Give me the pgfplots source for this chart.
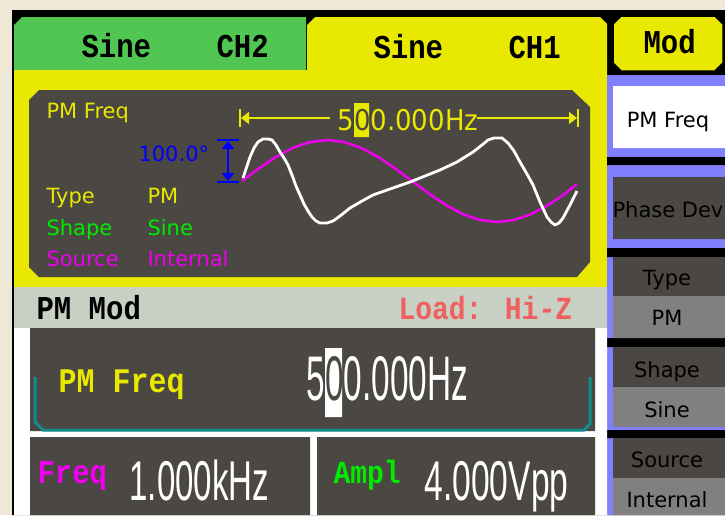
\documentclass[border=0pt]{standalone}
\usepackage{pgfplots}
\pgfplotsset{compat=1.18}
\usepackage{fontspec}
\usetikzlibrary{arrows.meta}
\setmainfont{DejaVu Sans}
\newfontfamily\mono{Liberation Mono}
\newfontfamily\lsans{Liberation Sans}
\definecolor{beige}{RGB}{240,232,214}
\definecolor{tabgreen}{RGB}{82,198,82}
\definecolor{ylw}{RGB}{232,232,0}
\definecolor{dk}{RGB}{75,71,66}
\definecolor{lgray}{RGB}{200,208,196}
\definecolor{lav}{RGB}{128,128,255}
\definecolor{mgray}{RGB}{128,128,128}
\definecolor{teal2}{RGB}{16,140,140}
\definecolor{redt}{RGB}{240,96,96}
\definecolor{grn}{RGB}{0,235,0}
\definecolor{mag}{RGB}{240,0,240}
\newcommand{\rect}[5]{\addplot[fill=#1,draw=none] coordinates {(#2,#3)(#4,#3)(#4,#5)(#2,#5)(#2,#3)};}
\newcommand{\mtxt}[2]{\scalebox{1}[1.15]{\fontsize{#1}{#1}\selectfont\mono\bfseries #2}}
\newcommand{\stxt}[1]{\fontsize{21}{24}\selectfont #1}
\begin{document}
\begin{tikzpicture}
\useasboundingbox (0,0) rectangle (725pt,515pt);
\begin{axis}[width=725pt,height=515pt,scale only axis,xmin=0,xmax=725,ymin=0,ymax=515,
  y dir=reverse,hide axis,clip=true,no markers,
  every node/.style={inner sep=0pt,outer sep=0pt}]
% backgrounds
\rect{beige}{0}{0}{725}{515}
\rect{black}{12}{10}{725}{515}
% tabs
\addplot[fill=tabgreen,draw=none] coordinates {(14,70)(14,25)(22,17)(306,17)(306,70)(14,70)};
\addplot[fill=ylw,draw=none] coordinates {(307,70)(307,25)(315,17)(600,17)(607,24)(607,70)(307,70)};
\rect{ylw}{14}{70}{607}{287}
\addplot[fill=ylw,draw=black,line width=1.5pt] coordinates {(613,24)(621,16)(715,16)(723,24)(723,63)(715,71)(621,71)(613,63)(613,24)};
% right panel
\rect{lav}{607}{75}{725}{515}
\rect{white}{613}{86}{725}{148}
\rect{black}{607}{157}{725}{165}
\rect{black}{607}{248}{725}{257}
\rect{black}{607}{338}{725}{347}
\rect{black}{607}{430}{725}{438}
\rect{dk}{613}{177}{725}{239}
\rect{dk}{613}{257}{725}{296}
\rect{mgray}{613}{296}{725}{338}
\rect{dk}{613}{347}{725}{387}
\rect{mgray}{613}{387}{725}{427}
\rect{dk}{613}{438}{725}{478}
\rect{mgray}{613}{478}{725}{515}
% lower left area
\rect{lgray}{14}{287}{607}{328}
\rect{white}{14}{328}{607}{515}
\rect{dk}{30}{328}{595}{431}
\addplot[teal2,line width=3pt] coordinates {(35,377)(35,422)(43,430)(584,430)(590,424)(590,377)};
\rect{dk}{30}{437}{310}{515}
\rect{dk}{317}{437}{595}{515}
% waveform panel
\addplot[fill=dk,draw=none] coordinates {(29,100)(39,90)(572,90)(590,107)(590,262)(577,277)(39,277)(29,267)(29,100)};
% yellow frequency arrow
\addplot[ylw,line width=1.5pt,-{Triangle[length=8pt,width=12pt]}] coordinates {(330,118)(241,118)};
\addplot[ylw,line width=1.5pt,-{Triangle[length=8pt,width=12pt]}] coordinates {(477,118)(577,118)};
\addplot[ylw,line width=2pt] coordinates {(240,109)(240,127)};
\addplot[ylw,line width=2pt] coordinates {(578,109)(578,127)};
\rect{ylw}{354}{103}{369}{137}
% blue arrow
\addplot[blue,line width=2pt,{Triangle[length=8pt,width=12pt]}-{Triangle[length=8pt,width=12pt]}] coordinates {(228,141)(228,181)};
\addplot[blue,line width=2pt] coordinates {(217,140)(239,140)};
\addplot[blue,line width=2pt] coordinates {(217,182)(239,182)};
% magenta modulating sine
\addplot[mag,line width=2.5pt,line join=round] coordinates {
(242,181)(259,168.3)(276,156.9)(293,147.8)(310,142.0)(327,140.0)(344,142.0)(361,147.8)(378,156.9)(395,168.3)
(412,181)(429,193.7)(446,205.1)(463,214.2)(480,220.0)(497,222.0)(514,220.0)(531,214.2)(548,205.1)(565,193.7)(577,184)};
% white PM carrier
\addplot[white,line width=2.8pt,line join=round] coordinates {
(243,178)(247,166)(250,157)(254,148)(258,142)(263,139)(268,139)(272,140)(276,145)(280,152)(284,158)(288,165)
(292,175)(296,186)(300,195)(304,204)(308,211)(312,217)(316,221)(320,223)(327,223)(333,221)(340,216)(350,208)
(362,201)(373,195)(390,189)(410,182)(425,176)(440,170)(457,162)(473,152)(482,145)(488,140)(494,138)(502,138)
(508,143)(514,151)(520,162)(527,174)(533,185)(540,202)(547,217)(551,222)(555,225)(559,223)(563,218)(570,205)(577,191)};
% panel texts
\node[anchor=base west,text=ylw] at (axis cs:43,118) {\stxt{PM Freq}};
\node[anchor=base west,text=ylw] at (axis cs:334,130) {\scalebox{1}[1.1]{\fontsize{26}{28}\selectfont 5\textcolor{dk}{0}0.000Hz}};
\node[anchor=base west,text=blue] at (axis cs:135,161) {\stxt{100.0°}};
\node[anchor=base west,text=ylw] at (axis cs:43,203) {\stxt{Type}};
\node[anchor=base west,text=ylw] at (axis cs:144,203) {\stxt{PM}};
\node[anchor=base west,text=grn] at (axis cs:43,235) {\stxt{Shape}};
\node[anchor=base west,text=grn] at (axis cs:144,235) {\stxt{Sine}};
\node[anchor=base west,text=mag] at (axis cs:43,266) {\stxt{Source}};
\node[anchor=base west,text=mag] at (axis cs:144,266) {\stxt{Internal}};
% tab texts
\node[anchor=base west] at (axis cs:78,57) {\mtxt{29}{Sine}};
\node[anchor=base west] at (axis cs:213,57) {\mtxt{29}{CH2}};
\node[anchor=base west] at (axis cs:370,58) {\mtxt{29}{Sine}};
\node[anchor=base west] at (axis cs:505,58) {\mtxt{29}{CH1}};
\node[anchor=base west] at (axis cs:640,53) {\mtxt{29}{Mod}};
% lower texts
\node[anchor=base west] at (axis cs:33,319) {\mtxt{29}{PM Mod}};
\node[anchor=base west,text=redt] at (axis cs:395,319) {\mtxt{28}{Load: Hi-Z}};
\node[anchor=base west,text=ylw] at (axis cs:55,392) {\mtxt{30}{PM Freq}};
\rect{white}{325}{348}{342}{417}
\node[anchor=base west,text=white] at (axis cs:303,400) {\scalebox{0.53}[1]{\fontsize{63}{70}\selectfont\lsans 5\textcolor{dk}{0}0.000Hz}};
\node[anchor=base west,text=mag] at (axis cs:34,483) {\mtxt{29}{Freq}};
\node[anchor=base west,text=white] at (axis cs:126,500) {\scalebox{0.59}[1]{\fontsize{56}{62}\selectfont\lsans 1.000kHz}};
\node[anchor=base west,text=grn] at (axis cs:330,483) {\mtxt{28}{Ampl}};
\node[anchor=base west,text=white] at (axis cs:421,500) {\scalebox{0.6}[1]{\fontsize{56}{62}\selectfont\lsans 4.000Vpp}};
% right panel texts
\node[anchor=base] at (axis cs:668,127) {\stxt{PM Freq}};
\node[anchor=base west] at (axis cs:609,217) {\stxt{Phase Dev}};
\node[anchor=base] at (axis cs:667,285) {\stxt{Type}};
\node[anchor=base] at (axis cs:667,325) {\stxt{PM}};
\node[anchor=base] at (axis cs:667,377) {\stxt{Shape}};
\node[anchor=base] at (axis cs:667,417) {\stxt{Sine}};
\node[anchor=base] at (axis cs:667,467) {\stxt{Source}};
\node[anchor=base] at (axis cs:667,507) {\stxt{Internal}};
\end{axis}
\end{tikzpicture}
\end{document}
